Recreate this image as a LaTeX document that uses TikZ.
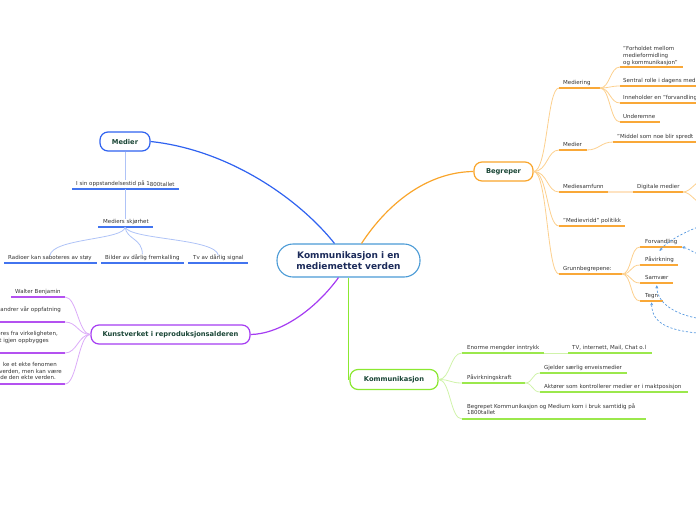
\documentclass[tikz,border=0pt]{standalone}
\usepackage{fontspec}
\setmainfont{DejaVu Sans}
\usetikzlibrary{arrows.meta}
\definecolor{labelgray}{HTML}{333333}
\definecolor{topictext}{HTML}{1A4636}
\definecolor{centralT}{HTML}{1C2B5A}
\definecolor{centralB}{HTML}{4B9BD6}
\definecolor{orangeM}{HTML}{F9A52B}
\definecolor{orangeU}{HTML}{F9A838}
\definecolor{orangeP}{HTML}{FCD08E}
\definecolor{orangeVP}{HTML}{FEE3C2}
\definecolor{blueM}{HTML}{2F62F0}
\definecolor{blueU}{HTML}{4274EF}
\definecolor{blueP}{HTML}{AFC3F7}
\definecolor{purpleM}{HTML}{A53CF2}
\definecolor{purpleU}{HTML}{B451F0}
\definecolor{purpleP}{HTML}{DBAAF8}
\definecolor{greenM}{HTML}{8BE830}
\definecolor{greenU}{HTML}{9BE84C}
\definecolor{greenP}{HTML}{D0F3AA}
\definecolor{relblue}{HTML}{5A9BE0}
\begin{document}
\begin{tikzpicture}[x=1pt,y=-1pt,
  lbl/.style={font=\fontsize{5.5}{6.8}\selectfont, text=labelgray, inner sep=0pt, anchor=base west, align=left},
  lblr/.style={lbl, anchor=base east, align=right},
  lbltop/.style={lbl, anchor=north west},
  topic/.style={draw, line width=1.2pt, rounded corners=8pt, fill=white, font=\fontsize{6.7}{8}\selectfont\bfseries, text=topictext, minimum height=19pt, inner sep=0pt},
  ulO/.style={draw=orangeU, line width=1.6pt},
  ulB/.style={draw=blueU, line width=1.6pt},
  ulP/.style={draw=purpleU, line width=1.6pt},
  ulG/.style={draw=greenU, line width=1.6pt},
  cO/.style={draw=orangeP, line width=0.8pt},
  cB/.style={draw=blueP, line width=0.8pt},
  cP/.style={draw=purpleP, line width=0.8pt},
  cG/.style={draw=greenP, line width=0.8pt},
  rel/.style={draw=relblue, line width=0.7pt, dash pattern=on 2.2pt off 1.8pt, -{Stealth[length=3pt,width=3pt]}}
]
\useasboundingbox (0,0) rectangle (696,520);

% ---------- main nodes ----------
\node[draw=centralB, line width=1.1pt, rounded corners=16pt, fill=white, minimum width=143pt, minimum height=33pt, align=center, font=\fontsize{9}{11}\selectfont\bfseries, text=centralT, inner sep=0pt] (root) at (348.5,260.5) {Kommunikasjon i en\\mediemettet verden};
\node[topic, draw=orangeM, minimum width=59pt] (begreper) at (503.5,171.5) {Begreper};
\node[topic, draw=blueM, minimum width=50pt] (medier) at (125,141.5) {Medier};
\node[topic, draw=purpleM, minimum width=159pt] (kunst) at (170.5,334.5) {Kunstverket i reproduksjonsalderen};
\node[topic, draw=greenM, minimum width=88pt, minimum height=20pt] (komm) at (394,379.5) {Kommunikasjon};

% ---------- main connectors ----------
\draw[blueM, line width=1.2pt] (medier.east) .. controls (230,150) and (300,200) .. ([xshift=-14pt]root.north);
\draw[orangeM, line width=1.2pt] ([xshift=13pt]root.north) .. controls (390,200) and (430,172) .. (begreper.west);
\draw[purpleM, line width=1.2pt] ([xshift=-10pt]root.south) .. controls (315,310) and (280,334) .. (kunst.east);
\draw[greenM, line width=1.4pt] (root.south) -- (komm.west -| root.south);

% ---------- Begreper subtree ----------
\coordinate (medgL) at (559,88); \coordinate (medgR) at (600,88);
\node[lbl] (mediering) at (563,84) {Mediering};
\draw[ulO] (medgL) -- (medgR);
\draw[cO] (begreper.east) .. controls +(14,0) and +(-12,0) .. (medgL);

\coordinate (forhL) at (620,67); \coordinate (forhR) at (683,67);
\node[lbltop] (forhold) at (623,46.5) {"Forholdet mellom\\medieformidling\\og kommunikasjon"};
\draw[ulO] (forhL) -- (forhR);
\draw[cO] (medgR) .. controls +(10,0) and +(-10,0) .. (forhL);

\coordinate (sentL) at (620,86); \coordinate (sentR) at (700,86);
\node[lbl] (sentral) at (623,82) {Sentral rolle i dagens med};
\draw[ulO] (sentL) -- (sentR);
\draw[cO] (medgR) .. controls +(10,0) and +(-10,0) .. (sentL);

\coordinate (innhL) at (620,103); \coordinate (innhR) at (700,103);
\node[lbl] (inneholder) at (623,99.5) {Inneholder en "forvandling};
\draw[ulO] (innhL) -- (innhR);
\draw[cO] (medgR) .. controls +(10,0) and +(-10,0) .. (innhL);

\coordinate (undL) at (620,122); \coordinate (undR) at (660,122);
\node[lbl] (underemne) at (623,118) {Underemne};
\draw[ulO] (undL) -- (undR);
\draw[cO] (medgR) .. controls +(10,0) and +(-10,0) .. (undL);

\coordinate (medbL) at (559,150); \coordinate (medbR) at (587,150);
\node[lbl] (medierb) at (563,146) {Medier};
\draw[ulO] (medbL) -- (medbR);
\draw[cO] (begreper.east) .. controls +(14,0) and +(-12,0) .. (medbL);

\coordinate (midL) at (613,142); \coordinate (midR) at (700,142);
\node[lbl] (middel) at (617,138) {"Middel som noe blir spredt};
\draw[ulO] (midL) -- (midR);
\draw[cO] (medbR) .. controls +(12,0) and +(-12,0) .. (midL);

\coordinate (msfL) at (559,192); \coordinate (msfR) at (608,192);
\node[lbl] (mediesamfunn) at (563,188) {Mediesamfunn};
\draw[ulO] (msfL) -- (msfR);
\draw[cO] (begreper.east) .. controls +(14,0) and +(-12,0) .. (msfL);

\coordinate (digL) at (633,192); \coordinate (digR) at (683,192);
\node[lbl] (digitale) at (637,188) {Digitale medier};
\draw[ulO] (digL) -- (digR);
\draw[draw=orangeVP, line width=1.4pt] (msfR) -- (digL);
\coordinate (digX1) at (704,180); \coordinate (digX2) at (704,204);
\draw[cO] (digR) .. controls +(8,0) and +(-8,0) .. (digX1);
\draw[cO] (digR) .. controls +(8,0) and +(-8,0) .. (digX2);

\coordinate (mvL) at (559,226); \coordinate (mvR) at (625,226);
\node[lbl] (medievridd) at (563,222) {"Medievridd" politikk};
\draw[ulO] (mvL) -- (mvR);
\draw[cO] (begreper.east) .. controls +(14,0) and +(-12,0) .. (mvL);

\coordinate (grL) at (559,274); \coordinate (grR) at (622,274);
\node[lbl] (grunn) at (563,270) {Grunnbegrepene:};
\draw[ulO] (grL) -- (grR);
\draw[cO] (begreper.east) .. controls +(14,0) and +(-12,0) .. (grL);

\coordinate (forvL) at (640,247); \coordinate (forvR) at (682,247);
\node[lbl] (forv) at (645,243) {Forvandling};
\draw[ulO] (forvL) -- (forvR);
\draw[cO] (grR) .. controls +(10,0) and +(-10,0) .. (forvL);

\coordinate (pavL) at (640,265); \coordinate (pavR) at (678,265);
\node[lbl] (pav) at (645,261) {Påvirkning};
\draw[ulO] (pavL) -- (pavR);
\draw[cO] (grR) .. controls +(10,0) and +(-10,0) .. (pavL);

\coordinate (samL) at (640,283); \coordinate (samR) at (673,283);
\node[lbl] (samv) at (645,279) {Samvær};
\draw[ulO] (samL) -- (samR);
\draw[cO] (grR) .. controls +(10,0) and +(-10,0) .. (samL);

\coordinate (tegL) at (640,301); \coordinate (tegR) at (663,301);
\node[lbl] (tegn) at (645,297) {Tegn};
\draw[ulO] (tegL) -- (tegR);
\draw[cO] (grR) .. controls +(10,0) and +(-10,0) .. (tegL);

% relationship arrows (sources off the page)
\coordinate (ext1) at (712,222);
\coordinate (ext2) at (712,259);
\coordinate (ext3) at (712,320);
\coordinate (ext4) at (712,334);
\draw[rel] (ext1) .. controls (690,229) and (668,240) .. ([yshift=5pt]pav.north);
\draw[rel] (ext2) .. controls (698,256) and (690,249) .. (forvR);
\draw[rel] (ext3) .. controls (680,318) and (657,305) .. ([yshift=-6pt]samv.south);
\draw[rel] (ext4) .. controls (665,332) and (652,322) .. ([yshift=-4pt]tegn.south);

% ---------- Medier subtree ----------
\coordinate (isinL) at (72,189); \coordinate (isinR) at (179,189); \coordinate (isinM) at (125,189);
\node[lbl] (isin) at (76,185) {I sin oppstandelsestid på 1\raisebox{-1.2pt}{800tallet}};
\draw[ulB] (isinL) -- (isinR);
\draw[cB] (medier.south) -- (isin.north -| medier.south);

\coordinate (mskL) at (98,227); \coordinate (mskR) at (153,227); \coordinate (mskM) at (125,227);
\node[lbl] (msk) at (103,223) {Mediers skjørhet};
\draw[ulB] (mskL) -- (mskR);
\draw[cB] (isinM) -- (msk.north -| isinM);

\coordinate (radL) at (4,263); \coordinate (radR) at (97,263);
\node[lbl] (radioer) at (8,259) {Radioer kan saboteres av støy};
\draw[ulB] (radL) -- (radR);

\coordinate (bilL) at (101,263); \coordinate (bilR) at (184,263);
\node[lbl] (bilder) at (105,259) {Bilder av dårlig\raisebox{-0.9pt}{ fremkalling}};
\draw[ulB] (bilL) -- (bilR);

\coordinate (tvL) at (188,263); \coordinate (tvR) at (248,263);
\node[lbl] (tv) at (193,259.5) {Tv av dårlig signal};
\draw[ulB] (tvL) -- (tvR);

\draw[cB] (mskM) .. controls (125,240) and (52,238) .. ([yshift=-1pt]radioer.north);
\draw[cB] (mskM) .. controls (127,240) and (142,238) .. (bilder.north);
\draw[cB] (mskM) .. controls (130,240) and (216,238) .. ([yshift=-1pt]tv.north);

% ---------- Kunstverket subtree ----------
\coordinate (walL) at (11,297); \coordinate (walR) at (65,297);
\node[lbl] (walter) at (15,293) {Walter Benjamin};
\draw[ulP] (walL) -- (walR);
\draw[cP] (kunst.west) .. controls +(-12,0) and +(12,0) .. (walR);

\coordinate (k2L) at (-5,322); \coordinate (k2R) at (65,322);
\node[lblr] (k2) at (61,311) {andrer vår oppfatning};
\draw[ulP] (k2L) -- (k2R);
\draw[cP] (kunst.west) .. controls +(-12,0) and +(12,0) .. (k2R);

\coordinate (k3L) at (-5,353); \coordinate (k3R) at (65,353);
\node[lblr] (k3a) at (58,335) {eres fra virkeligheten,};
\node[lblr] (k3b) at (49,342) {t igjen oppbygges};
\draw[ulP] (k3L) -- (k3R);
\draw[cP] (kunst.west) .. controls +(-12,0) and +(12,0) .. (k3R);

\coordinate (k4L) at (-5,384); \coordinate (k4R) at (65,384);
\node[lblr] (k4a) at (57,366.5) {ke et ekte fenomen};
\node[lblr] (k4b) at (62,373) {verden, men kan være};
\node[lblr] (k4c) at (56,379.5) {ide den ekte verden.};
\draw[ulP] (k4L) -- (k4R);
\draw[cP] (kunst.west) .. controls +(-12,0) and +(12,0) .. (k4R);

% ---------- Kommunikasjon subtree ----------
\coordinate (enL) at (462,353); \coordinate (enR) at (544,353);
\node[lbl] (enorme) at (467,349) {Enorme mengder inntrykk};
\draw[ulG] (enL) -- (enR);
\draw[cG] (komm.east) .. controls +(12,0) and +(-12,0) .. (enL);

\coordinate (tvkL) at (568,353); \coordinate (tvkR) at (652,353);
\node[lbl] (tvk) at (572,349) {TV, internett, Mail, Chat o.l};
\draw[ulG] (tvkL) -- (tvkR);
\draw[cG] (enR) -- (tvkL);

\coordinate (pkL) at (462,383); \coordinate (pkR) at (525,383);
\node[lbl] (pkraft) at (467,379) {Påvirkningskraft};
\draw[ulG] (pkL) -- (pkR);
\draw[cG] (komm.east) .. controls +(12,0) and +(-12,0) .. (pkL);

\coordinate (gjL) at (540,373); \coordinate (gjR) at (627,373);
\node[lbl] (gjelder) at (544,369) {Gjelder særlig enveismedier};
\draw[ulG] (gjL) -- (gjR);
\draw[cG] (pkR) .. controls +(8,0) and +(-8,0) .. (gjL);

\coordinate (akL) at (540,392); \coordinate (akR) at (688,392);
\node[lbl] (aktorer) at (544,388) {Aktører som kontrollerer medier er i maktposisjon};
\draw[ulG] (akL) -- (akR);
\draw[cG] (pkR) .. controls +(8,0) and +(-8,0) .. (akL);

\coordinate (bgL) at (462,419); \coordinate (bgR) at (646,419);
\node[lbltop] (begrepet) at (467,403) {Begrepet Kommunikasjon og Medium kom i bruk samtidig på\\1800tallet};
\draw[ulG] (bgL) -- (bgR);
\draw[cG] (komm.east) .. controls +(12,0) and +(-12,0) .. (bgL);
\end{tikzpicture}
\end{document}
